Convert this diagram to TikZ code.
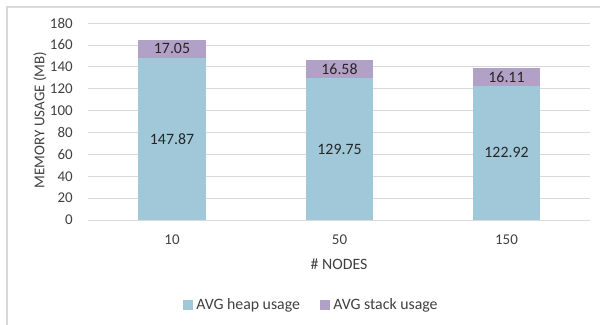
\documentclass[tikz,border=0pt]{standalone}
\usepackage{fontspec}
\setmainfont{Carlito}
\usetikzlibrary{positioning}
\definecolor{heapblue}{RGB}{160,200,216}
\definecolor{stackpurple}{RGB}{178,161,199}
\definecolor{gridgray}{RGB}{217,217,217}
\definecolor{axtext}{RGB}{64,64,64}

\begin{document}
\begin{tikzpicture}[x=0.02cm, y=-0.02cm,
  outerframe/.style={draw=gridgray, line width=0.6pt},
  gridline/.style={draw=gridgray, line width=0.5pt},
  heap/.style={fill=heapblue},
  stack/.style={fill=stackpurple},
  ticklbl/.style={font=\fontsize{8.5}{10}\selectfont, text=axtext, inner sep=0pt},
  val/.style={font=\fontsize{9}{10}\selectfont, text=black!85, inner sep=0pt},
  ttl/.style={font=\fontsize{9}{10}\selectfont, text=axtext, inner sep=0pt},
  legkey/.style={fill=#1, minimum size=0.2cm, inner sep=0pt},
]
\useasboundingbox (0,0) rectangle (600,325);
\draw[outerframe] (7,325) -- (7,7) -- (600,7);

% plot area, values in MB
\begin{scope}[shift={(0,220)}, y=0.021888cm]
\foreach \v in {0,20,...,180}
  {\draw[gridline] (88,\v) -- (590,\v);
   \node[ticklbl, anchor=east] (y\v) at (73,\v) {\v};}

\fill[heap]  (138,0) rectangle (206,147.87);
\fill[stack] (138,147.87) rectangle (206,164.92);
\node[val] (h10) at (172,73.94) {147.87};
\node[val] (s10) at (172,156.40) {17.05};

\fill[heap]  (306,0) rectangle (373,129.75);
\fill[stack] (306,129.75) rectangle (373,146.33);
\node[val] (h50) at (339.5,64.88) {129.75};
\node[val] (s50) at (339.5,138.04) {16.58};

\fill[heap]  (473,0) rectangle (540,122.92);
\fill[stack] (473,122.92) rectangle (540,139.03);
\node[val] (h150) at (506.5,61.46) {122.92};
\node[val] (s150) at (506.5,130.98) {16.11};
\end{scope}

\node[ticklbl] (x10) at (172,240) {10};
\node[ticklbl] (x50) at (339.5,240) {50};
\node[ticklbl] (x150) at (506.5,240) {150};
\node[ttl] (xtitle) at (339,264) {\# NODES};
\node[ticklbl, rotate=90] (ytitle) at (40,120) {MEMORY USAGE (MB)};

% legend
\node[legkey=heapblue] (kheap) at (188,305) {};
\node[ttl, right=1.5pt of kheap] (lheap) {AVG heap usage};
\node[legkey=stackpurple] (kstack) at (325,305) {};
\node[ttl, right=1.5pt of kstack] (lstack) {AVG stack usage};
\end{tikzpicture}
\end{document}
